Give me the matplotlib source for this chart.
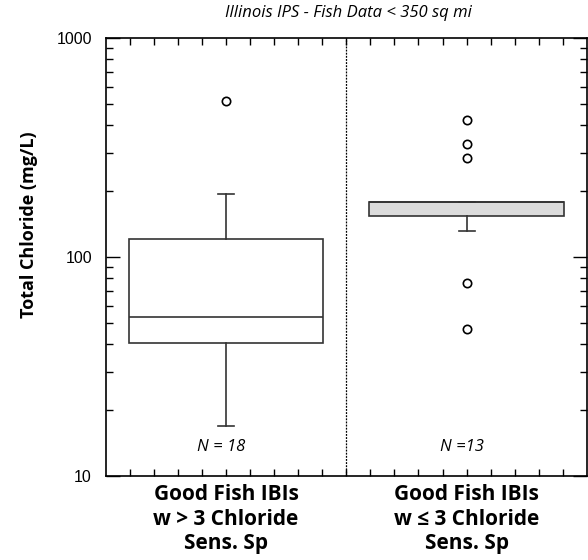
import matplotlib.pyplot as plt
from matplotlib.ticker import FixedLocator, LogLocator, NullFormatter
import numpy as np

title = "Illinois IPS - Fish Data < 350 sq mi"
groups = ["Good Fish IBIs\nw > 3 Chloride\nSens. Sp",
          "Good Fish IBIs\nw \u2264 3 Chloride\nSens. Sp"]
n_labels = ["N = 18", "N =13"]

# box stats (mg/L)
whislo = [17, 131]
q1 = [40.5, 154]
med = [53, 178]
q3 = [121, 178]
whishi = [194, 178]
fliers = [[515], [423, 328, 283, 76, 47]]
box_fill = ["white", "#dcdcdc"]

plt.rcParams['font.family'] = ['Open Sans', 'DejaVu Sans']

fig = plt.figure(figsize=(5.88, 5.6), dpi=100)
ax = fig.add_axes([0.180, 0.150, 0.818, 0.782])

stats = []
for i in range(len(groups)):
    stats.append(dict(whislo=whislo[i], q1=q1[i], med=med[i], q3=q3[i],
                      whishi=whishi[i], fliers=fliers[i]))

bp = ax.bxp(stats, positions=[1, 2], widths=0.81, capwidths=0.067,
            patch_artist=True,
            boxprops=dict(color="#333333", linewidth=1.2),
            medianprops=dict(color="#333333", linewidth=1.2),
            whiskerprops=dict(color="#333333", linewidth=1.2),
            capprops=dict(color="#333333", linewidth=1.2),
            flierprops=dict(marker="o", markerfacecolor="white",
                            markeredgecolor="black", markersize=6,
                            markeredgewidth=1.2))
for patch, c in zip(bp["boxes"], box_fill):
    patch.set_facecolor(c)

ax.set_yscale("log")
ax.set_ylim(10, 1000)
ax.set_xlim(0.5, 2.5)
ax.axvline(1.5, color="black", linestyle=(0, (1.5, 1)), linewidth=0.9)

ax.set_yticks([10, 100, 1000])
ax.set_yticklabels(["10", "100", "1000"], family="Liberation Sans", fontsize=11.5)
ax.yaxis.set_minor_locator(LogLocator(base=10, subs=np.arange(2, 10)))
ax.yaxis.set_minor_formatter(NullFormatter())
ax.tick_params(axis="y", which="major", direction="in", length=10,
               right=True, width=1, pad=10)
ax.tick_params(axis="y", which="minor", direction="in", length=5,
               right=True, width=1)

ax.set_xticks([1, 2])
ax.set_xticklabels(groups, fontsize=15, fontweight="bold", linespacing=1.2)
ax.xaxis.set_minor_locator(FixedLocator(np.arange(0.6, 2.45, 0.1)))
ax.tick_params(axis="x", which="both", direction="in", length=5, top=True,
               width=1, pad=6)

for s in ax.spines.values():
    s.set_linewidth(1.2)

for x, t in zip([1, 2], n_labels):
    ax.text(x - 0.02, 13.5, t, ha="center", va="center", style="italic",
            fontsize=12)

fig.text(0.592, 0.977, title, ha="center", va="center", style="italic",
         fontsize=12)
fig.text(0.05, 0.598, "Total Chloride (mg/L)", rotation=90, ha="center",
         va="center", fontsize=13, fontweight="bold")

fig.savefig("out.png", dpi=100)
